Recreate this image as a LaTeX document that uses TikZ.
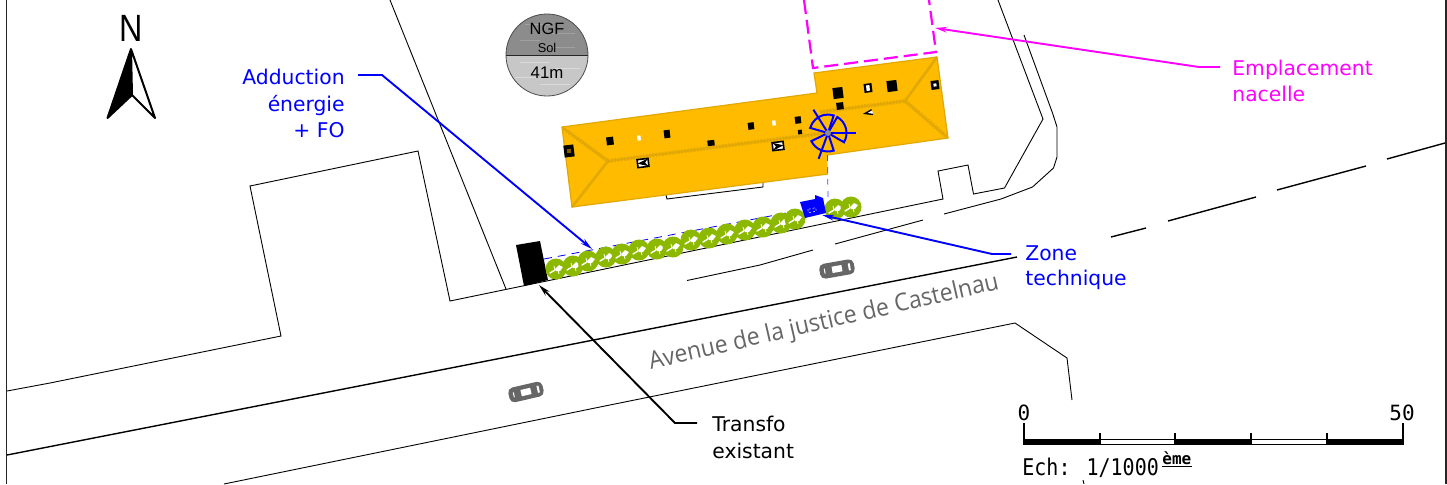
\documentclass[tikz,border=0pt]{standalone}
\usepackage{fontspec}
\setmainfont{DejaVu Sans}
\newfontfamily\helv{Liberation Sans}
\newfontfamily\monof{DejaVu Sans Mono}
\newfontfamily\roadf{Open Sans}
\usetikzlibrary{arrows.meta}
\definecolor{roof}{HTML}{FFBB00}
\definecolor{ridge}{HTML}{E2A806}
\definecolor{hedge}{HTML}{8CB800}
\definecolor{cargrey}{HTML}{666666}
\definecolor{puremag}{HTML}{FF00FF}
\definecolor{pureblue}{HTML}{0000FF}
\newcommand{\rbox}[5]{\fill[#5,shift={(#1,#2)},rotate=7] (-#3,-#4) rectangle (#3,#4);}
\tikzset{
  thinline/.style={black,line width=0.45pt,line join=miter},
  roadline/.style={black,line width=0.7pt},
  leaderblue/.style={pureblue,line width=0.95pt,-{Stealth[length=6pt,width=2.8pt]}},
  leadermag/.style={puremag,line width=0.95pt,-{Stealth[length=6pt,width=2.8pt]}},
  leaderblack/.style={black,line width=0.95pt,-{Stealth[length=6pt,width=2.8pt]}},
  lab/.style={inner sep=0pt,font=\fontsize{10.15}{12}\selectfont},
  hedgeplant/.pic={
    \fill[hedge] (0,0) circle (10.5);
    \draw[white,line width=0.7pt,line cap=round] (-6,4) -- (-1,1);
    \fill[white] (-1,0) -- (3,-4) -- (7,-2) -- (4,2) -- (0,2) -- cycle;
    \draw[white,line width=0.4pt] (-1,1) -- (-2,-3) (2,1) -- (3,5);
  },
  carpic/.pic={
    \fill[cargrey,rounded corners=2.5pt] (-17.5,-7.5) rectangle (17.5,7.5);
    \fill[white] (-5,-3.2) rectangle (5,3.2);
    \fill[white] (-13,-2.5) rectangle (-12,2.5);
    \fill[white] (11.5,-3.5) rectangle (13.5,3.5);
  }
}
\begin{document}
\begin{tikzpicture}[x=0.5pt,y=-0.5pt]
\useasboundingbox (0,0) rectangle (1447,484);
\fill[white] (0,0) rectangle (1447,484);
\clip (0,0) rectangle (1447,484);

% frame
\draw[black!85,line width=0.9pt] (6.5,0) -- (6.5,484);
\draw[black!85,line width=1pt] (1445.5,0) -- (1445.5,484);

% parcels
\draw[thinline] (7,391) -- (50,383) -- (281,336) -- (250,186) -- (418,151) -- (450,301) -- (943,199) -- (938,171) -- (968,165) -- (973.5,194) -- (1004.5,188) -- (1043,119) -- (998,0);
\draw[thinline] (390,0) -- (506,289);
\draw[thinline] (1024,35) -- (1052.5,113) -- (1057,127) -- (1057,157) -- (1053.5,168) -- (1032.5,187) -- (1001,199) -- (944,214);
\draw[thinline] (923,220) -- (835,244);
\draw[thinline] (813,250) -- (760,265) -- (687,280.5);
\draw[thinline] (666,195) -- (667,199) -- (763,187) -- (763,182);

% road
\draw[roadline] (7,455) -- (1017,257);
\draw[roadline] (1111,237) -- (1146,228);
\draw[roadline] (1168,221) -- (1256,197);
\draw[roadline] (1277,190) -- (1366,166);
\draw[roadline] (1387,159) -- (1445,143);
\draw[thinline] (224,484) -- (600,407) -- (1015,323) -- (1067,358) -- (1072,400);
\draw[thinline] (1083,480) -- (1084,484);

% building
\fill[roof] (562,127) -- (572,207) -- (828,174) -- (827,155) -- (948,138) -- (937,57) -- (814,73) -- (817,93) -- cycle;
\draw[ridge,line width=0.6pt] (562,127) -- (572,207) -- (828,174);
\draw[ridge,line width=0.6pt] (827,155) -- (948,138) -- (937,57) -- (814,73) -- (817,93) -- (562,127);
\draw[ridge,line width=1.3pt] (572,207) -- (608,161);
\draw[ridge,line width=1pt] (562,127) -- (608,161) -- (825,133);
\draw[ridge,line width=1pt] (820,112) -- (905,101) -- (948,138);
\draw[ridge,line width=1.3pt] (905,101) -- (937,57);
\draw[ridge,line width=2pt,dash pattern=on 0.8pt off 0.8pt] (564,129) -- (608,161) -- (825,133);
\draw[ridge,line width=2pt,dash pattern=on 0.8pt off 0.8pt] (820,112) -- (905,101) -- (946,136);

% roof details
\rbox{569}{151}{5}{6}{black}
\rbox{569}{151}{2}{2}{roof!50!black}
\rbox{610}{141}{3.5}{4}{black}
\rbox{639}{138}{1.7}{2.5}{white}
\rbox{667}{134}{3}{4}{black}
\rbox{711}{143}{3.5}{2.8}{black}
\rbox{751}{126}{3}{3.5}{black}
\rbox{774}{123}{1.7}{2.5}{white}
\rbox{798}{120}{3}{3.5}{black}
\rbox{800}{132}{2}{2.2}{black}
\rbox{838}{93}{5}{5.5}{black}
\rbox{840}{106}{3.5}{3.5}{black}
\rbox{868}{88}{4}{4.5}{black}
\rbox{868}{88}{1.7}{2.8}{white}
\rbox{892}{86}{5}{5.5}{black}
\rbox{935}{85}{4}{4.5}{black}
\rbox{935}{85}{1.5}{1.5}{white}
\draw[black,fill=white,line width=0.8pt,shift={(643,163)},rotate=7] (-5.5,-4) rectangle (5.5,4);
\fill[black,shift={(643,163)},rotate=7] (5.5,-4) -- (-5.5,0) -- (5.5,4) -- (2,0) -- cycle;
\draw[black,fill=white,line width=0.8pt,shift={(778,146)},rotate=7] (-5.5,-4) rectangle (5.5,4);
\fill[black,shift={(778,146)},rotate=7] (-5.5,-4) -- (5.5,0) -- (-5.5,4) -- (-2,0) -- cycle;
\fill[white,shift={(869,113)},rotate=7] (-4.5,0) -- (3,-3.5) -- (4.5,3) -- cycle;
\draw[black,line width=0.7pt,shift={(869,113)},rotate=7] (3,-3) -- (-4,0) -- (4,2);

% antenna
\begin{scope}[shift={(828,133)},pureblue,line width=1pt]
  \draw (0,0) -- (-60:18.5) arc[start angle=-60,end angle=30,radius=18.5] -- cycle;
  \draw (0,0) -- (72:18.5) arc[start angle=72,end angle=154,radius=18.5] -- cycle;
  \draw (0,0) -- (196:18.5) arc[start angle=196,end angle=288,radius=18.5] -- cycle;
  \draw (0,0) -- (0:28);
  \draw (0,0) -- (110:27.5);
  \draw (0,0) -- (238:27.5);
  \fill[black!45] (0,0) circle (3);
\end{scope}

% cable route
\draw[pureblue!75,line width=0.35pt,dashed] (827.5,155) -- (828,197);
\draw[pureblue,line width=0.4pt,dash pattern=on 4pt off 3pt] (544,259) -- (802,210);

% transformer
\fill[black] (516,245) -- (540,241) -- (548,280) -- (524,286) -- cycle;

% hedge
\foreach \hx/\hy in {556/269,573/266,588/261,606/257,622/254,639/250,657/249,673/247,691/240,709/238,727/234,745/230,763/227,781/223,795/219,835/209,851/207}
  \pic at (\hx,\hy) {hedgeplant};

% technical zone
\fill[pureblue] (800,202) -- (815,199) -- (815,195) -- (823,198) -- (826,213) -- (805,218) -- cycle;
\draw[white,line width=0.25pt,dash pattern=on 1pt off 1pt,shift={(812,210)},rotate=12] (-4,-1.5) rectangle (4,2);

% cars
\pic[rotate=10] at (837,269) {carpic};
\pic[rotate=13] at (526,392) {carpic};

% north arrow
\node[font=\helv\fontsize{19}{19}\selectfont,inner sep=0pt,xscale=0.85] (north) at (131.5,28) {N};
\fill[black] (131,49) -- (107.5,118) -- (132,95) -- cycle;
\draw[black,line width=1pt,line join=round] (131,49) -- (155,118) -- (132,95) -- cycle;
\draw[black,line width=1pt,line join=round] (131,49) -- (107.5,118) -- (132,95);

% NGF disc
\begin{scope}
  \clip (547,55) circle (41);
  \fill[black!45] (500,10) rectangle (600,55);
  \fill[black!22] (500,55) rectangle (600,100);
  \foreach \ly/\lx/\ll in {24/525/25,33/545/30,40/520/20,47/550/25}
    \draw[white,opacity=0.18,line width=0.4pt] (\lx,\ly) -- ++(\ll,0);
  \foreach \ly/\lx/\ll in {62/520/30,68/555/25,77/515/22,84/540/30}
    \draw[white,opacity=0.35,line width=0.4pt] (\lx,\ly) -- ++(\ll,0);
\end{scope}
\draw[black!70,line width=0.4pt] (547,55) circle (41);
\draw[black!85,line width=0.5pt] (506,55) -- (588,55);
\node[font=\helv\fontsize{8.2}{9}\selectfont,inner sep=0pt] (ngf) at (547,29) {NGF};
\node[font=\helv\fontsize{6.4}{7}\selectfont,inner sep=0pt] (sol) at (547,48) {Sol};
\node[font=\helv\fontsize{8.4}{9}\selectfont,inner sep=0pt] (alt) at (547,73) {41m};

% labels
\node[lab,anchor=base east,text=pureblue] (add1) at (345,84) {Adduction};
\node[lab,anchor=base east,text=pureblue] (add2) at (345,111) {énergie};
\node[lab,anchor=base east,text=pureblue] (add3) at (345,137) {+ FO};
\node[lab,anchor=base west,text=puremag] (emp1) at (1232,75) {Emplacement};
\node[lab,anchor=base west,text=puremag] (emp2) at (1232,101) {nacelle};
\node[lab,anchor=base west,text=pureblue] (zon1) at (1025,260) {Zone};
\node[lab,anchor=base west,text=pureblue] (zon2) at (1025,285) {technique};
\node[lab,anchor=base west,text=black] (tra1) at (712,431) {Transfo};
\node[lab,anchor=base west,text=black] (tra2) at (712,458) {existant};
\node[inner sep=0pt,rotate=13,xscale=0.945,text=cargrey,font=\roadf\fontsize{12.2}{14}\selectfont] (road) at (824,323) {Avenue de la justice de Castelnau};

% connectors
\coordinate (addA) at (358,75);
\coordinate (addB) at (382,75);
\coordinate (addT) at (592,249);
\coordinate (empA) at (1220,67);
\coordinate (empB) at (1199,67);
\coordinate (empT) at (935,28);
\coordinate (zonA) at (1011,254);
\coordinate (zonB) at (992,254);
\coordinate (zonT) at (822,215);
\coordinate (traA) at (697,423);
\coordinate (traB) at (675,423);
\coordinate (traT) at (539,285);
\draw[leaderblue] (addA) -- (addB) -- (addT);
\draw[leadermag] (empA) -- (empB) -- (empT);
\draw[leaderblue] (zonA) -- (zonB) -- (zonT);
\draw[leaderblack] (traA) -- (traB) -- (traT);

% nacelle zone
\draw[puremag,line width=1.1pt,dash pattern=on 7pt off 3pt] (804,0) -- (813,68) -- (936,52) -- (929,0);

% scale bar
\fill[black] (1024,439) rectangle (1100,445);
\draw[black,line width=0.6pt] (1100,439.5) rectangle (1175,444.5);
\fill[black] (1175,439) rectangle (1251,445);
\draw[black,line width=0.6pt] (1251,439.5) rectangle (1327,444.5);
\fill[black] (1327,439) rectangle (1403,445);
\draw[black,line width=0.6pt] (1024,423) -- (1024,445);
\draw[black,line width=0.6pt] (1403,423) -- (1403,445);
\foreach \tx in {1100,1175,1251,1327} \draw[black,line width=0.6pt] (\tx,433) -- (\tx,440);
\node[font=\monof\fontsize{10.5}{11}\selectfont,inner sep=0pt] (s0) at (1024,413) {0};
\node[font=\monof\fontsize{10.5}{11}\selectfont,inner sep=0pt] (s50) at (1402,413) {50};
\node[font=\monof\fontsize{10}{11}\selectfont,inner sep=0pt,anchor=base west,yscale=1.15] (ech) at (1022,475) {Ech: 1/1000};
\node[font=\monof\bfseries\fontsize{8}{8}\selectfont,inner sep=0pt,anchor=base west] (eme) at (1162,464) {ème};
\draw[black,line width=0.6pt] (1162,466.5) -- (1192,466.5);
\end{tikzpicture}
\end{document}
